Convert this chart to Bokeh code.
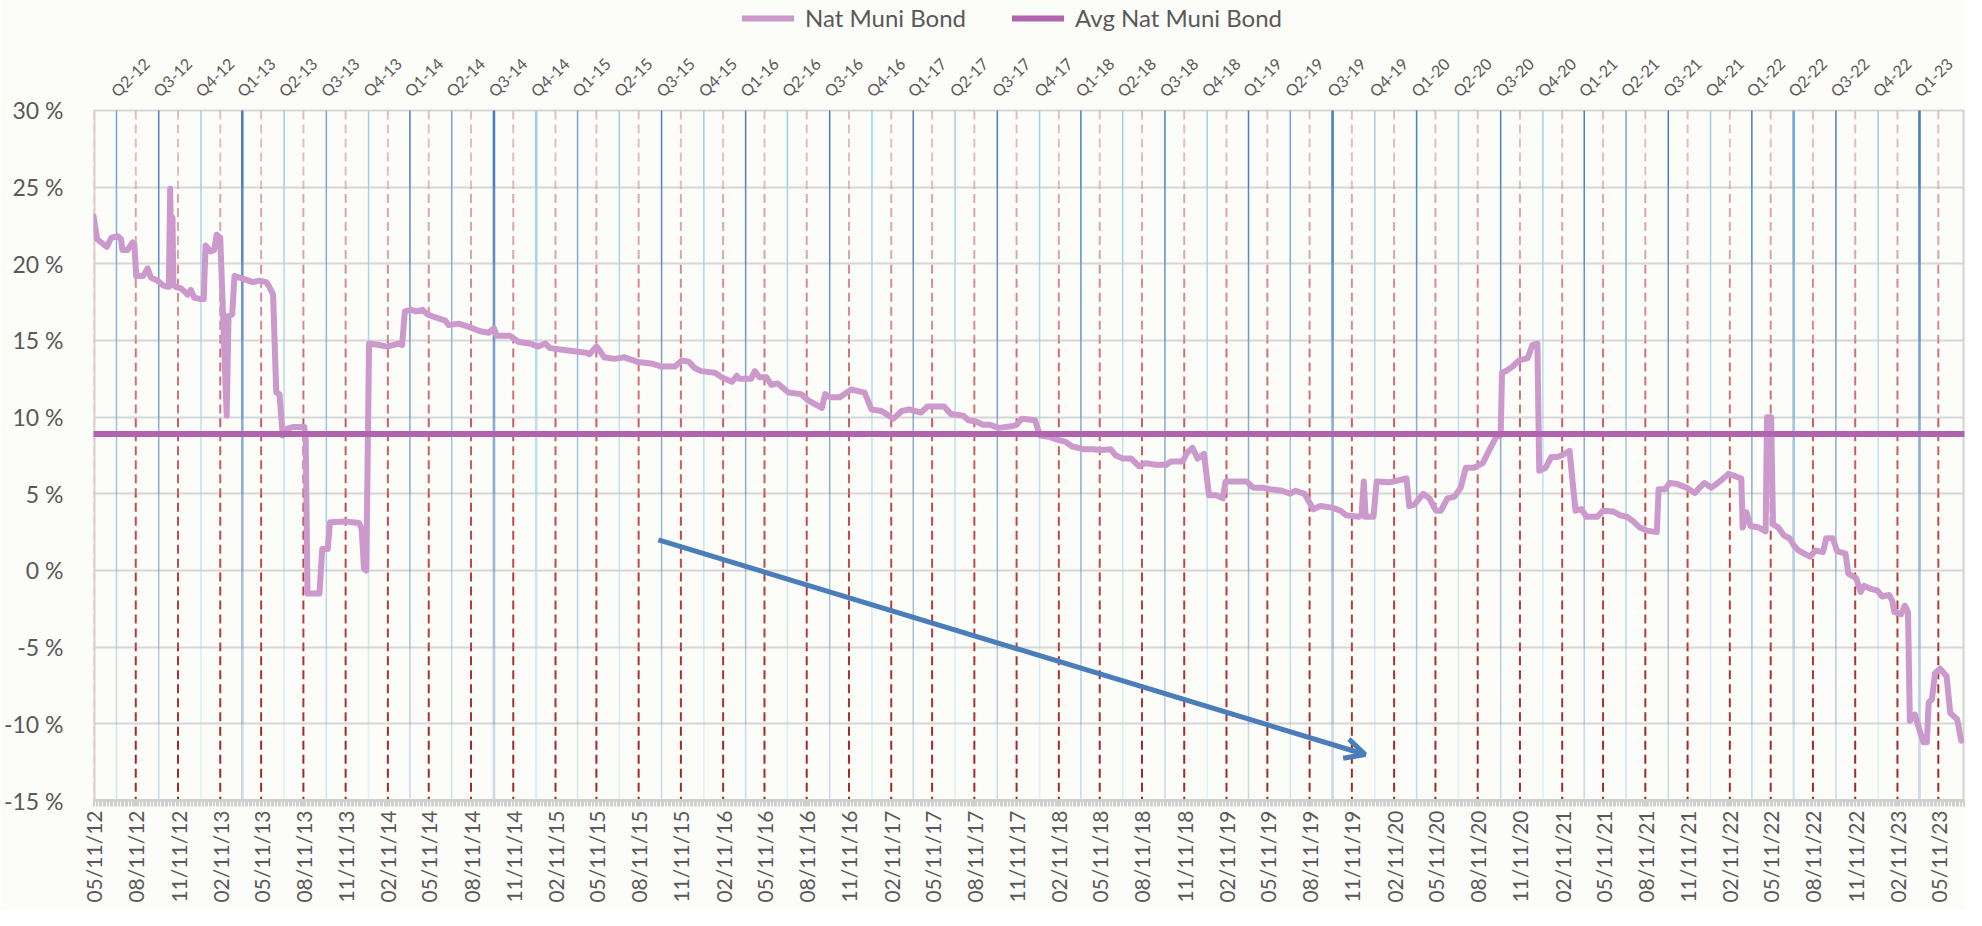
import pandas as pd
from math import pi
from bokeh.plotting import figure
from bokeh.models import Range1d, FixedTicker, Legend, LegendItem, Arrow, OpenHead, ColumnDataSource
from bokeh.embed import file_html
from bokeh.resources import INLINE
from bokeh.core.properties import value

# ---------------- data ----------------
dates = [
    "2012-05-11", "2012-05-19", "2012-06-09", "2012-06-19", "2012-07-03", "2012-07-10", "2012-07-13",
    "2012-07-24", "2012-08-04", "2012-08-08", "2012-08-12", "2012-08-27", "2012-09-06", "2012-09-13",
    "2012-09-28", "2012-10-09", "2012-10-20", "2012-10-22", "2012-10-25", "2012-10-28", "2012-10-30",
    "2012-11-01", "2012-11-06", "2012-11-17", "2012-12-02", "2012-12-09", "2012-12-16", "2012-12-30",
    "2013-01-06", "2013-01-10", "2013-01-21", "2013-01-29", "2013-02-03", "2013-02-11", "2013-02-25",
    "2013-03-01", "2013-03-09", "2013-03-14", "2013-03-25", "2013-04-23", "2013-05-07", "2013-05-22",
    "2013-05-27", "2013-06-06", "2013-06-13", "2013-06-20", "2013-06-27", "2013-07-01", "2013-07-19",
    "2013-08-13", "2013-08-16", "2013-08-20", "2013-09-15", "2013-09-21", "2013-10-03", "2013-10-08",
    "2013-11-12", "2013-12-10", "2013-12-16", "2013-12-21", "2013-12-26",
    "2014-01-01", "2014-01-23", "2014-02-09", "2014-03-06", "2014-03-14", "2014-03-20", "2014-04-02",
    "2014-04-14", "2014-04-27", "2014-05-08", "2014-05-26", "2014-06-16", "2014-06-23", "2014-07-15",
    "2014-08-05", "2014-08-31", "2014-09-19", "2014-09-30", "2014-10-06", "2014-11-04", "2014-11-23",
    "2014-12-17",
    "2015-01-04", "2015-01-20", "2015-01-30", "2015-02-26", "2015-03-24", "2015-04-19", "2015-04-26",
    "2015-05-11", "2015-05-17", "2015-05-28", "2015-06-20", "2015-07-11", "2015-08-09", "2015-09-07",
    "2015-09-30", "2015-10-29", "2015-11-13", "2015-11-29", "2015-12-11", "2015-12-25",
    "2016-01-24", "2016-02-08", "2016-03-01", "2016-03-12", "2016-03-17", "2016-04-12", "2016-04-20",
    "2016-04-30", "2016-05-15", "2016-05-26", "2016-06-09", "2016-07-02", "2016-07-30", "2016-08-14",
    "2016-09-13", "2016-09-20", "2016-10-01", "2016-10-22", "2016-11-16", "2016-12-01", "2016-12-15",
    "2016-12-30",
    "2017-01-21", "2017-02-16", "2017-03-06", "2017-03-22", "2017-04-17", "2017-05-01", "2017-05-23",
    "2017-06-06", "2017-06-21", "2017-07-18", "2017-07-29", "2017-08-16", "2017-08-30", "2017-09-14",
    "2017-10-03", "2017-10-31", "2017-11-11", "2017-11-22", "2017-12-21",
    "2018-01-01", "2018-01-23", "2018-02-11", "2018-02-25", "2018-03-11", "2018-04-07", "2018-04-26",
    "2018-05-16", "2018-06-04", "2018-06-15", "2018-06-30", "2018-07-18", "2018-08-05", "2018-08-19",
    "2018-09-10", "2018-10-03", "2018-10-13", "2018-11-07", "2018-11-18", "2018-11-29", "2018-12-10",
    "2018-12-24",
    "2019-01-04", "2019-01-20", "2019-02-03", "2019-02-09", "2019-03-04", "2019-03-27", "2019-04-10",
    "2019-05-02", "2019-05-16", "2019-06-12", "2019-06-30", "2019-07-11", "2019-07-31", "2019-08-19",
    "2019-09-03", "2019-09-29", "2019-10-17", "2019-10-30", "2019-11-26", "2019-12-02", "2019-12-07",
    "2019-12-11", "2019-12-28",
    "2020-01-04", "2020-02-01", "2020-03-09", "2020-03-15", "2020-03-26", "2020-04-14", "2020-04-28",
    "2020-05-12", "2020-05-23", "2020-06-06", "2020-06-21", "2020-07-05", "2020-07-16", "2020-08-03",
    "2020-08-22", "2020-09-06", "2020-09-20", "2020-09-30", "2020-10-03", "2020-10-11", "2020-10-26",
    "2020-11-09", "2020-11-28", "2020-12-08", "2020-12-19", "2020-12-23",
    "2021-01-06", "2021-01-18", "2021-02-01", "2021-02-16", "2021-02-27", "2021-03-12", "2021-03-25",
    "2021-04-05", "2021-04-28", "2021-05-11", "2021-06-02", "2021-06-17", "2021-07-02", "2021-07-16",
    "2021-07-30", "2021-08-14", "2021-09-05", "2021-09-09", "2021-09-23", "2021-10-03", "2021-10-18",
    "2021-11-09", "2021-11-27", "2021-12-07", "2021-12-18",
    "2022-01-02", "2022-01-13", "2022-01-24", "2022-02-08", "2022-02-23", "2022-03-08", "2022-03-11",
    "2022-03-19", "2022-03-28", "2022-04-15", "2022-04-30", "2022-05-03", "2022-05-12", "2022-05-16",
    "2022-05-28", "2022-06-08", "2022-06-21", "2022-07-01", "2022-07-11", "2022-07-26", "2022-08-05",
    "2022-08-16", "2022-09-02", "2022-09-09", "2022-09-23", "2022-10-03", "2022-10-21", "2022-10-27",
    "2022-11-13", "2022-11-23", "2022-11-30", "2022-12-14", "2022-12-29",
    "2023-01-09", "2023-01-24", "2023-01-31", "2023-02-04", "2023-02-19", "2023-02-27", "2023-03-06",
    "2023-03-10", "2023-03-21", "2023-04-08", "2023-04-16", "2023-04-20", "2023-04-27", "2023-05-04",
    "2023-05-15", "2023-05-29", "2023-06-06", "2023-06-21", "2023-06-30",
]

nat_muni_bond = [
    23.1, 21.6, 21.1, 21.7, 21.8, 21.6, 20.9,
    20.9, 21.4, 21.3, 19.2, 19.2, 19.7, 19.1,
    18.9, 18.6, 18.5, 18.5, 24.9, 18.7, 23.0,
    18.6, 18.5, 18.4, 18.0, 18.3, 17.8, 17.7,
    17.7, 21.2, 20.8, 20.9, 21.9, 21.7, 10.1,
    16.6, 16.7, 19.2, 19.1, 18.8, 18.9, 18.8,
    18.6, 18.0, 11.6, 11.5, 8.8, 9.2, 9.35,
    9.35, 8.6, -1.5, -1.5, 1.4, 1.4, 3.15,
    3.2, 3.1, 2.7, 0.1, 0.0,
    14.8, 14.7, 14.6, 14.8, 14.7, 16.9, 17.0,
    16.9, 17.0, 16.7, 16.5, 16.3, 16.0, 16.1,
    15.9, 15.6, 15.5, 15.8, 15.3, 15.3, 14.9,
    14.8,
    14.6, 14.8, 14.5, 14.4, 14.3, 14.2, 14.1,
    14.6, 14.4, 13.9, 13.8, 13.9, 13.6, 13.5,
    13.3, 13.3, 13.7, 13.6, 13.2, 13.0,
    12.9, 12.6, 12.3, 12.7, 12.5, 12.5, 13.0,
    12.6, 12.6, 12.1, 12.2, 11.6, 11.5, 11.1,
    10.6, 11.5, 11.3, 11.3, 11.8, 11.7, 11.6,
    10.5,
    10.4, 9.9, 10.4, 10.5, 10.3, 10.7, 10.7,
    10.7, 10.2, 10.1, 9.8, 9.7, 9.5, 9.5,
    9.3, 9.4, 9.5, 9.9, 9.8,
    8.8, 8.7, 8.5, 8.4, 8.1, 7.9, 7.9,
    7.85, 7.9, 7.5, 7.3, 7.3, 6.8, 7.0,
    6.9, 6.9, 7.1, 7.1, 7.7, 8.0, 7.3,
    7.6,
    4.9, 4.9, 4.7, 5.8, 5.8, 5.8, 5.4,
    5.4, 5.3, 5.2, 5.0, 5.2, 5.0, 4.0,
    4.2, 4.1, 3.9, 3.6, 3.5, 3.6, 5.8,
    3.5, 3.5,
    5.8, 5.75, 6.0, 4.2, 4.3, 5.0, 4.7,
    3.9, 3.9, 4.7, 4.8, 5.4, 6.7, 6.7,
    7.0, 7.9, 8.7, 8.8, 12.9, 13.0, 13.3,
    13.7, 13.85, 14.7, 14.8, 6.5,
    6.7, 7.4, 7.4, 7.6, 7.8, 3.9, 4.0,
    3.5, 3.5, 3.9, 3.85, 3.6, 3.5, 3.2,
    2.8, 2.6, 2.5, 5.3, 5.3, 5.7, 5.65,
    5.4, 5.05, 5.4, 5.7,
    5.4, 5.65, 5.9, 6.3, 6.15, 6.0, 2.8,
    3.8, 2.9, 2.8, 2.55, 10.0, 10.0, 3.0,
    2.8, 2.3, 2.1, 1.6, 1.3, 1.05, 0.9,
    1.3, 1.2, 2.1, 2.1, 1.25, 1.1, -0.2,
    -0.5, -1.4, -1.0, -1.2, -1.3,
    -1.7, -1.6, -2.0, -2.7, -2.85, -2.3, -2.7,
    -9.8, -9.4, -11.2, -11.2, -8.6, -8.4, -6.7,
    -6.4, -6.9, -9.3, -9.7, -11.1,
]

avg_nat_muni_bond = 8.9

y_ticks = [-15, -10, -5, 0, 5, 10, 15, 20, 25, 30]
y_tick_labels = ["-15 %", "-10 %", "-5 %", "0 %", "5 %", "10 %", "15 %", "20 %", "25 %", "30 %"]

x_tick_labels = [
    "05/11/12", "08/11/12", "11/11/12",
    "02/11/13", "05/11/13", "08/11/13", "11/11/13",
    "02/11/14", "05/11/14", "08/11/14", "11/11/14",
    "02/11/15", "05/11/15", "08/11/15", "11/11/15",
    "02/11/16", "05/11/16", "08/11/16", "11/11/16",
    "02/11/17", "05/11/17", "08/11/17", "11/11/17",
    "02/11/18", "05/11/18", "08/11/18", "11/11/18",
    "02/11/19", "05/11/19", "08/11/19", "11/11/19",
    "02/11/20", "05/11/20", "08/11/20", "11/11/20",
    "02/11/21", "05/11/21", "08/11/21", "11/11/21",
    "02/11/22", "05/11/22", "08/11/22", "11/11/22",
    "02/11/23", "05/11/23",
]

quarter_labels = [
    "Q2-12", "Q3-12", "Q4-12",
    "Q1-13", "Q2-13", "Q3-13", "Q4-13",
    "Q1-14", "Q2-14", "Q3-14", "Q4-14",
    "Q1-15", "Q2-15", "Q3-15", "Q4-15",
    "Q1-16", "Q2-16", "Q3-16", "Q4-16",
    "Q1-17", "Q2-17", "Q3-17", "Q4-17",
    "Q1-18", "Q2-18", "Q3-18", "Q4-18",
    "Q1-19", "Q2-19", "Q3-19", "Q4-19",
    "Q1-20", "Q2-20", "Q3-20", "Q4-20",
    "Q1-21", "Q2-21", "Q3-21", "Q4-21",
    "Q1-22", "Q2-22", "Q3-22", "Q4-22",
    "Q1-23",
]
# d = dark, m = medium, l = light; capital = thicker
quarter_styles = [
    "m", "d", "l",
    "D", "l", "m", "l",
    "d", "m", "D", "L",
    "m", "l", "d", "l",
    "d", "l", "d", "l",
    "d", "l", "d", "l",
    "d", "l", "d", "l",
    "d", "m", "D", "l",
    "d", "l", "d", "l",
    "d", "m", "d", "l",
    "d", "M", "d", "l",
    "D",
]

trend_start_date, trend_start_value = "2015-09-23", 2.0
trend_end_date, trend_end_value = "2019-12-10", -12.0

x_start, x_end = "2012-05-11", "2023-07-07"

# ---------------- styling ----------------
BG = "#fcfcf8"
TXT = "#595959"
FONT = "Lato"
NAT = "#cc99cc"
AVG = "#b064ad"
ARROW = "#4a7ebb"
blue_color = {"d": "#4a7fc0", "m": "#6ea7d8", "l": "#9dd0e6"}
blue_width = {"d": 1.5, "m": 1.5, "l": 1.5, "D": 2.6, "M": 2.6, "L": 2.6}
red_band_colors = ["#e3bccb", "#dda5b2", "#d68c96", "#cf727a", "#c85d62",
                   "#bf4a4e", "#b53c3f", "#aa3234", "#9f2a2b"]


def ms(d):
    return pd.Timestamp(d).value // 10**6


x_dt = pd.to_datetime(dates)
tick_dates = pd.to_datetime(x_tick_labels, format="%m/%d/%y")
tick_ms = [ms(d) for d in tick_dates]
q_dates = [pd.Period(f"20{l[3:]}Q{l[1]}").end_time.normalize() for l in quarter_labels]
q_ms = [ms(d) for d in q_dates]
minor_ms = [ms(d) for d in pd.date_range(x_start, x_end, freq="3D")]

W, H = 1966, 910
FRAME_H = 800
Y_TOP = 37.17
p = figure(width=W, height=H, title=None, x_axis_type="datetime",
           x_range=Range1d(pd.Timestamp(x_start), pd.Timestamp(x_end)),
           y_range=Range1d(-15, Y_TOP),
           output_backend="svg", toolbar_location=None,
           min_border_left=84, min_border_right=2, min_border_top=0, min_border_bottom=H - FRAME_H,
           background_fill_color=BG, border_fill_color=BG, outline_line_color=None)

# grid
p.xgrid.visible = False
p.ygrid.ticker = FixedTicker(ticks=y_ticks)
p.ygrid.grid_line_color = "#d6d6d6"
p.ygrid.grid_line_width = 2

# y axis
p.yaxis.ticker = FixedTicker(ticks=y_ticks)
p.yaxis.major_label_overrides = {v: l for v, l in zip(y_ticks, y_tick_labels)}
p.yaxis.axis_line_color = None
p.yaxis.major_tick_line_color = None
p.yaxis.minor_tick_line_color = None
p.yaxis.major_label_standoff = 24
p.yaxis.major_label_text_font = FONT
p.yaxis.major_label_text_font_size = "23px"
p.yaxis.major_label_text_color = TXT

# x axis
p.xaxis.ticker = FixedTicker(ticks=tick_ms, minor_ticks=minor_ms)
p.xaxis.major_label_overrides = {t: l for t, l in zip(tick_ms, x_tick_labels)}
p.xaxis.major_label_orientation = pi / 2
p.xaxis.axis_line_color = "#d0d0d0"
p.xaxis.axis_line_width = 3
p.xaxis.major_tick_line_color = "#cfcfcf"
p.xaxis.minor_tick_line_color = "#cfcfcf"
p.xaxis.major_tick_in = 0
p.xaxis.major_tick_out = 6
p.xaxis.minor_tick_in = 0
p.xaxis.minor_tick_out = 6
p.xaxis.major_label_standoff = 4
p.xaxis.major_label_text_font = FONT
p.xaxis.major_label_text_font_size = "21px"
p.xaxis.major_label_text_color = TXT

# plot area side borders
p.segment(x0=[ms(x_start), ms(x_end)], y0=[-15, -15], x1=[ms(x_start), ms(x_end)], y1=[30, 30],
          line_color="#d3d3d3", line_width=4)

# quarter lines (blue, fading toward the bottom)
bx, by0, by1, bc, ba, bw = [], [], [], [], [], []
for k in range(9):
    top = 30 - 5 * k
    for t, s in zip(q_ms, quarter_styles):
        bx.append(t)
        by0.append(top)
        by1.append(top - 5)
        bc.append(blue_color[s.lower()])
        ba.append(1.0 - 0.09 * k)
        bw.append(blue_width[s])
p.segment(x0="x", y0="y0", x1="x", y1="y1", line_color="c", line_alpha="a", line_width="w",
          source=ColumnDataSource(dict(x=bx, y0=by0, y1=by1, c=bc, a=ba, w=bw)))

# date lines (dashed red, darker toward the bottom)
band_px = FRAME_H * 5 / (Y_TOP + 15)
red_ms = tick_ms[1:]
for k in range(9):
    top = 30 - 5 * k
    p.segment(x0=red_ms, y0=[top] * len(red_ms), x1=red_ms, y1=[top - 5] * len(red_ms),
              line_color=red_band_colors[k], line_width=2, line_dash="9 5",
              line_dash_offset=int(round(k * band_px)) % 14)
p.segment(x0=[tick_ms[0]], y0=[30], x1=[tick_ms[0]], y1=[-15], line_color="#e6c4cf",
          line_width=3, line_dash="9 5")

# series
nat_r = p.line(x=x_dt, y=nat_muni_bond, line_color=NAT, line_width=6,
               line_join="round", line_cap="round")
avg_r = p.line(x=[pd.Timestamp(x_start), pd.Timestamp(x_end)],
               y=[avg_nat_muni_bond, avg_nat_muni_bond],
               line_color=AVG, line_width=6, line_cap="round")

# quarter labels above the plot
p.text(x=q_ms, y=[31.1] * len(q_ms), text=quarter_labels, angle=pi / 4,
       text_font=value(FONT), text_font_size="16px", text_color=TXT,
       text_align="left", text_baseline="alphabetic", x_offset=-3)

# trend arrow
p.add_layout(Arrow(end=OpenHead(size=20, line_color=ARROW, line_width=5),
                   x_start=ms(trend_start_date), y_start=trend_start_value,
                   x_end=ms(trend_end_date), y_end=trend_end_value,
                   line_color=ARROW, line_width=5))

legend = Legend(items=[LegendItem(label="Nat Muni Bond", renderers=[nat_r]),
                       LegendItem(label="Avg Nat Muni Bond", renderers=[avg_r])],
                location=(649, 768), orientation="horizontal",
                label_text_font=FONT, label_text_font_size="24px", label_text_color=TXT,
                glyph_width=52, glyph_height=20, label_height=20, label_standoff=11,
                spacing=46, padding=0, margin=0,
                background_fill_alpha=0, border_line_color=None)
p.add_layout(legend)

open("out.html", "w").write(file_html(p, INLINE))
